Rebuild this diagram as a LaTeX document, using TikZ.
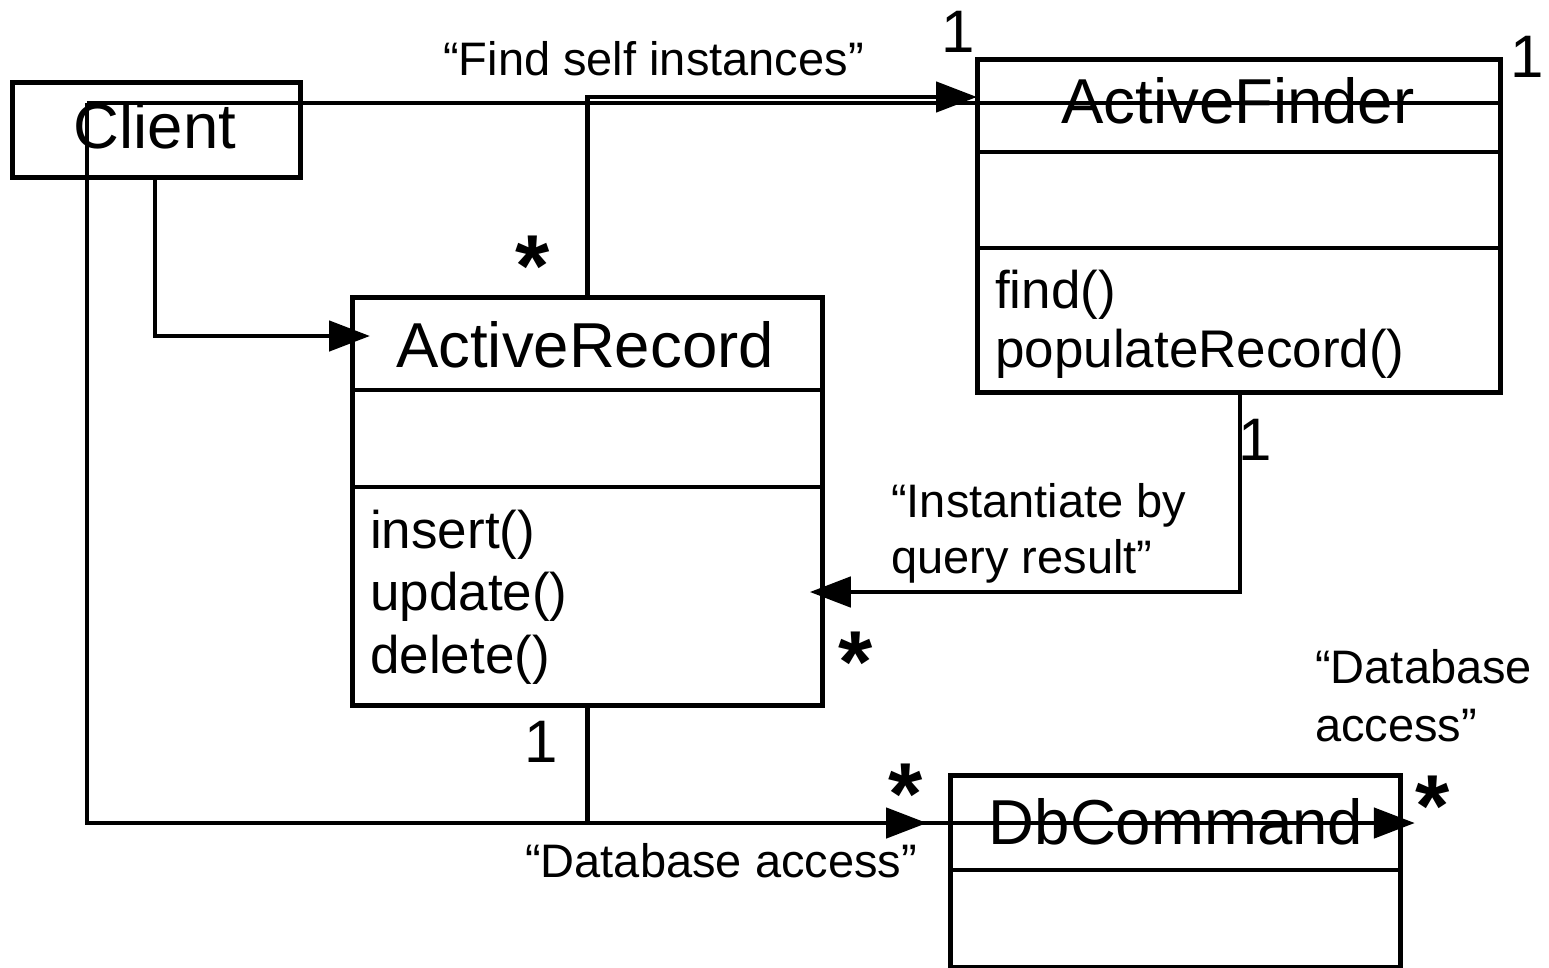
\documentclass[tikz,border=0pt]{standalone}
\usepackage{fontspec}
\setmainfont{Liberation Sans}
\usetikzlibrary{arrows.meta}
\begin{document}
\begin{tikzpicture}[x=1pt,y=-1pt,
  cls/.style={draw, line width=4.8pt, inner sep=0pt, anchor=north west},
  ln/.style={line width=4.8pt},
  tip/.style={-{Triangle[length=41pt,width=30pt]}},
  big/.style={font=\fontsize{63.5}{70}\selectfont, inner sep=0pt, anchor=base},
  meth/.style={font=\fontsize{53}{60}\selectfont, inner sep=0pt, anchor=base west},
  lab/.style={font=\fontsize{47}{56}\selectfont, inner sep=0pt, anchor=base west},
  mult/.style={font=\fontsize{60}{60}\selectfont, inner sep=0pt, anchor=base west},
  star/.style={font=\bfseries\fontsize{88}{88}\selectfont, inner sep=0pt, anchor=north}
]
\useasboundingbox (0,0) rectangle (1549,967);
% class boxes
\node[cls, minimum width=288pt, minimum height=95pt] (cl) at (10,80) {};
\node[cls, minimum width=523pt, minimum height=333pt] (af) at (975,57) {};
\node[cls, minimum width=470pt, minimum height=408pt] (ar) at (350,295) {};
\node[cls, minimum width=450pt, minimum height=192pt] (db) at (948,773) {};
% compartments
\draw[ln] (af.west |- 0,152) -- (af.east |- 0,152);
\draw[ln] (af.west |- 0,248) -- (af.east |- 0,248);
\draw[ln] (ar.west |- 0,390) -- (ar.east |- 0,390);
\draw[ln] (ar.west |- 0,487) -- (ar.east |- 0,487);
\draw[ln] (db.west |- 0,870) -- (db.east |- 0,870);
% class texts
\node[big] (clt) at (155,148) {Client};
\node[big] (aft) at (1238,123) {ActiveFinder};
\node[big] (art) at (585,367) {ActiveRecord};
\node[big] (dbt) at (1176,844) {DbCommand};
\node[meth] (m1) at (995,308) {find()};
\node[meth] (m2) at (995,367) {populateRecord()};
\node[meth] (m3) at (370,548) {insert()};
\node[meth] (m4) at (370,610) {update()};
\node[meth] (m5) at (370,673) {delete()};
% connectors
\coordinate (cj) at (87,103);
\draw[ln,tip] (cl.south -| 155,0) |- ([xshift=20pt]ar.west |- 0,336);
\draw[ln] (cj) -- (af.east |- cj);
\draw[ln,tip] (cj) |- ([xshift=12pt]db.east |- 0,823);
\draw[ln,tip] ([xshift=-62pt]db.west |- 0,823) -- ([xshift=-21pt]db.west |- 0,823);
\draw[ln] (ar.south) -- (ar.south |- 0,823);
\draw[ln,tip] (ar.north) |- ([xshift=2pt]af.west |- 0,97);
\draw[ln,tip] (af.south -| 1240,0) |- ([xshift=-15pt]ar.east |- 0,592);
% labels
\node[lab] (l1) at (443,75) {“Find self instances”};
\node[lab] (l2) at (891,517) {“Instantiate by};
\node[lab] (l3) at (891,573) {query result”};
\node[lab] (l4) at (1315,683) {“Database};
\node[lab] (l5) at (1315,741) {access”};
\node[lab] (l6) at (525,877) {“Database access”};
% multiplicities
\node[mult] (n1) at (941,52) {1};
\node[mult] (n2) at (1510,77) {1};
\node[mult] (n3) at (1238,460) {1};
\node[mult] (n4) at (524,762) {1};
\node[star] (s1) at (533,236) {*};
\node[star] (s2) at (856,632) {*};
\node[star] (s3) at (906,764) {*};
\node[star] (s4) at (1433,776) {*};
\end{tikzpicture}
\end{document}
